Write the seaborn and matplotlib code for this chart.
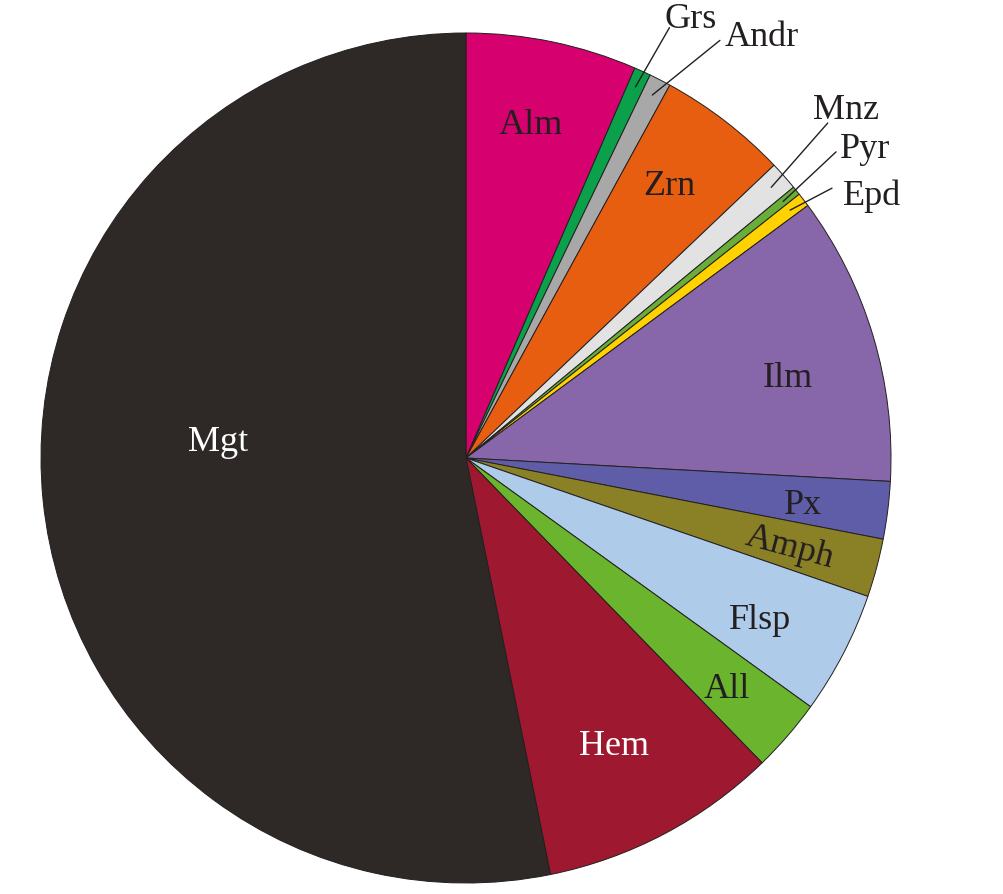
import numpy as np
import matplotlib
matplotlib.use("Agg")
import matplotlib.pyplot as plt
import seaborn as sns

# mineral abundances (%), clockwise from 12 o'clock
minerals = ['Alm', 'Grs', 'Andr', 'Zrn', 'Mnz', 'Pyr', 'Epd', 'Ilm',
            'Px', 'Amph', 'Flsp', 'All', 'Hem', 'Mgt']
shares = [6.5, 0.63, 0.83, 4.94, 1.1, 0.34, 0.53, 11.0,
          2.18, 2.22, 4.67, 2.78, 9.08, 53.17]
colours = ['#D6006E', '#0BA04A', '#A8A8A8', '#E85E10', '#E2E2E2', '#6AAE3A',
           '#FFD200', '#8766AA', '#5F5DA8', '#8A8026', '#AECBEA', '#6AB42E',
           '#9E1830', '#2E2926']

# labels drawn inside the wedge: (radius fraction, angle shift in deg, rotation, text colour)
inside = {
    'Alm': (0.80, -0.8, 0, '#231F20'),
    'Zrn': (0.80, -0.9, 0, '#231F20'),
    'Ilm': (0.78, 2.6, 0, '#231F20'),
    'Px': (0.80, 0.8, 0, '#231F20'),
    'Amph': (0.79, 0.4, -15, '#231F20'),
    'Flsp': (0.79, 1.4, 0, '#231F20'),
    'All': (0.82, 0.6, 0, '#231F20'),
    'Hem': (0.76, 0.6, 0, 'white'),
    'Mgt': (0.585, 9.5, 0, 'white'),
}
# labels outside with a leader line: (line end radius, line end angle, text x, text y)
outside = {
    'Grs': (1.12, 25.3, 0.468, 1.033),
    'Andr': (1.15, 31.3, 0.609, 0.992),
    'Mnz': (1.16, 47.2, 0.816, 0.821),
    'Pyr': (1.13, 50.4, 0.880, 0.729),
    'Epd': (1.07, 53.6, 0.887, 0.618),
}

sns.set_style('white')
plt.rcParams['font.family'] = ['Liberation Serif', 'DejaVu Serif']

fig = plt.figure(figsize=(10.04, 8.95), dpi=100)
ax = fig.add_axes([(466 - 425) / 1004, (895 - 459 - 425) / 895, 850 / 1004, 850 / 895])

wedges, _ = ax.pie(shares, colors=colours, startangle=90, counterclock=False,
                   radius=1.0, wedgeprops=dict(edgecolor='#231F20', linewidth=0.7))
ax.set_xlim(-1, 1)
ax.set_ylim(-1, 1)
ax.set_aspect('equal')
ax.axis('off')


def polar(r, clock_deg):
    # clockwise angle measured from 12 o'clock
    a = np.deg2rad(90 - clock_deg)
    return r * np.cos(a), r * np.sin(a)


for w, name in zip(wedges, minerals):
    # wedge theta1/theta2 are math angles; convert mid to clockwise-from-top
    mid = 90 - (w.theta1 + w.theta2) / 2
    if name in inside:
        r, shift, rot, c = inside[name]
        x, y = polar(r, mid + shift)
        ax.text(x, y, name, ha='center', va='center', fontsize=26,
                color=c, rotation=rot)
    else:
        r_end, a_end, tx, ty = outside[name]
        x0, y0 = polar(0.96, mid)
        x1, y1 = polar(r_end, a_end)
        ax.plot([x0, x1], [y0, y1], color='#231F20', lw=1.0, clip_on=False)
        ax.text(tx, ty, name, ha='left', va='center', fontsize=26,
                color='#231F20', clip_on=False)

fig.savefig('out.png', dpi=100, facecolor='white')
